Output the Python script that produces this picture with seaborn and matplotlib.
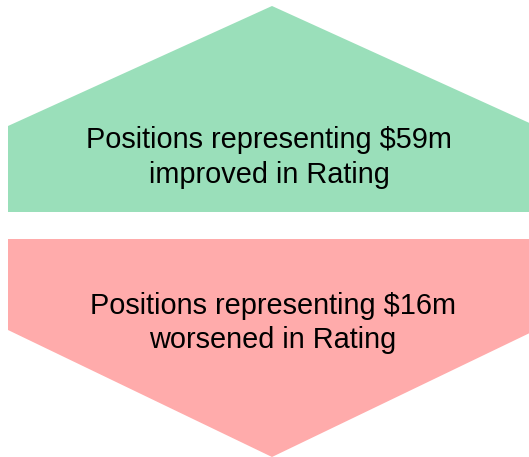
import matplotlib
matplotlib.use("Agg")
import matplotlib.pyplot as plt
import seaborn as sns

# Data
directions = ["improved", "worsened"]
amounts_musd = [59, 16]
metric = "Rating"

# Styles
colors = ["#9ADFBA", "#FFABAB"]

sns.set_theme(style="white")
plt.rcParams["font.family"] = ["Liberation Sans", "DejaVu Sans"]

W, H = 529, 457
fig = plt.figure(figsize=(W / 100, H / 100), dpi=100)
ax = fig.add_axes([0, 0, 1, 1])
ax.set_xlim(0, W)
ax.set_ylim(H, 0)
ax.set_axis_off()

# Shape geometry (pixel layout)
left, right, cx = 8, 536, 272
# Up arrow (pentagon)
up_x = [left, cx, right, right, left]
up_y = [126, 6, 126, 212, 212]
# Down arrow (pentagon)
dn_x = [left, right, right, cx, left]
dn_y = [239, 239, 330, 457, 330]

ax.fill(up_x, up_y, color=colors[0], lw=0)
ax.fill(dn_x, dn_y, color=colors[1], lw=0)

text_pos = [((269, 148), (269, 183)), ((273, 314), (273, 348))]
for d, a, (p1, p2) in zip(directions, amounts_musd, text_pos):
    ax.text(p1[0], p1[1], f"Positions representing ${a}m", ha="center",
            va="baseline", fontsize=20.8, color="black")
    ax.text(p2[0], p2[1], f"{d} in {metric}", ha="center",
            va="baseline", fontsize=20.8, color="black")

fig.savefig("out.png", dpi=100)
